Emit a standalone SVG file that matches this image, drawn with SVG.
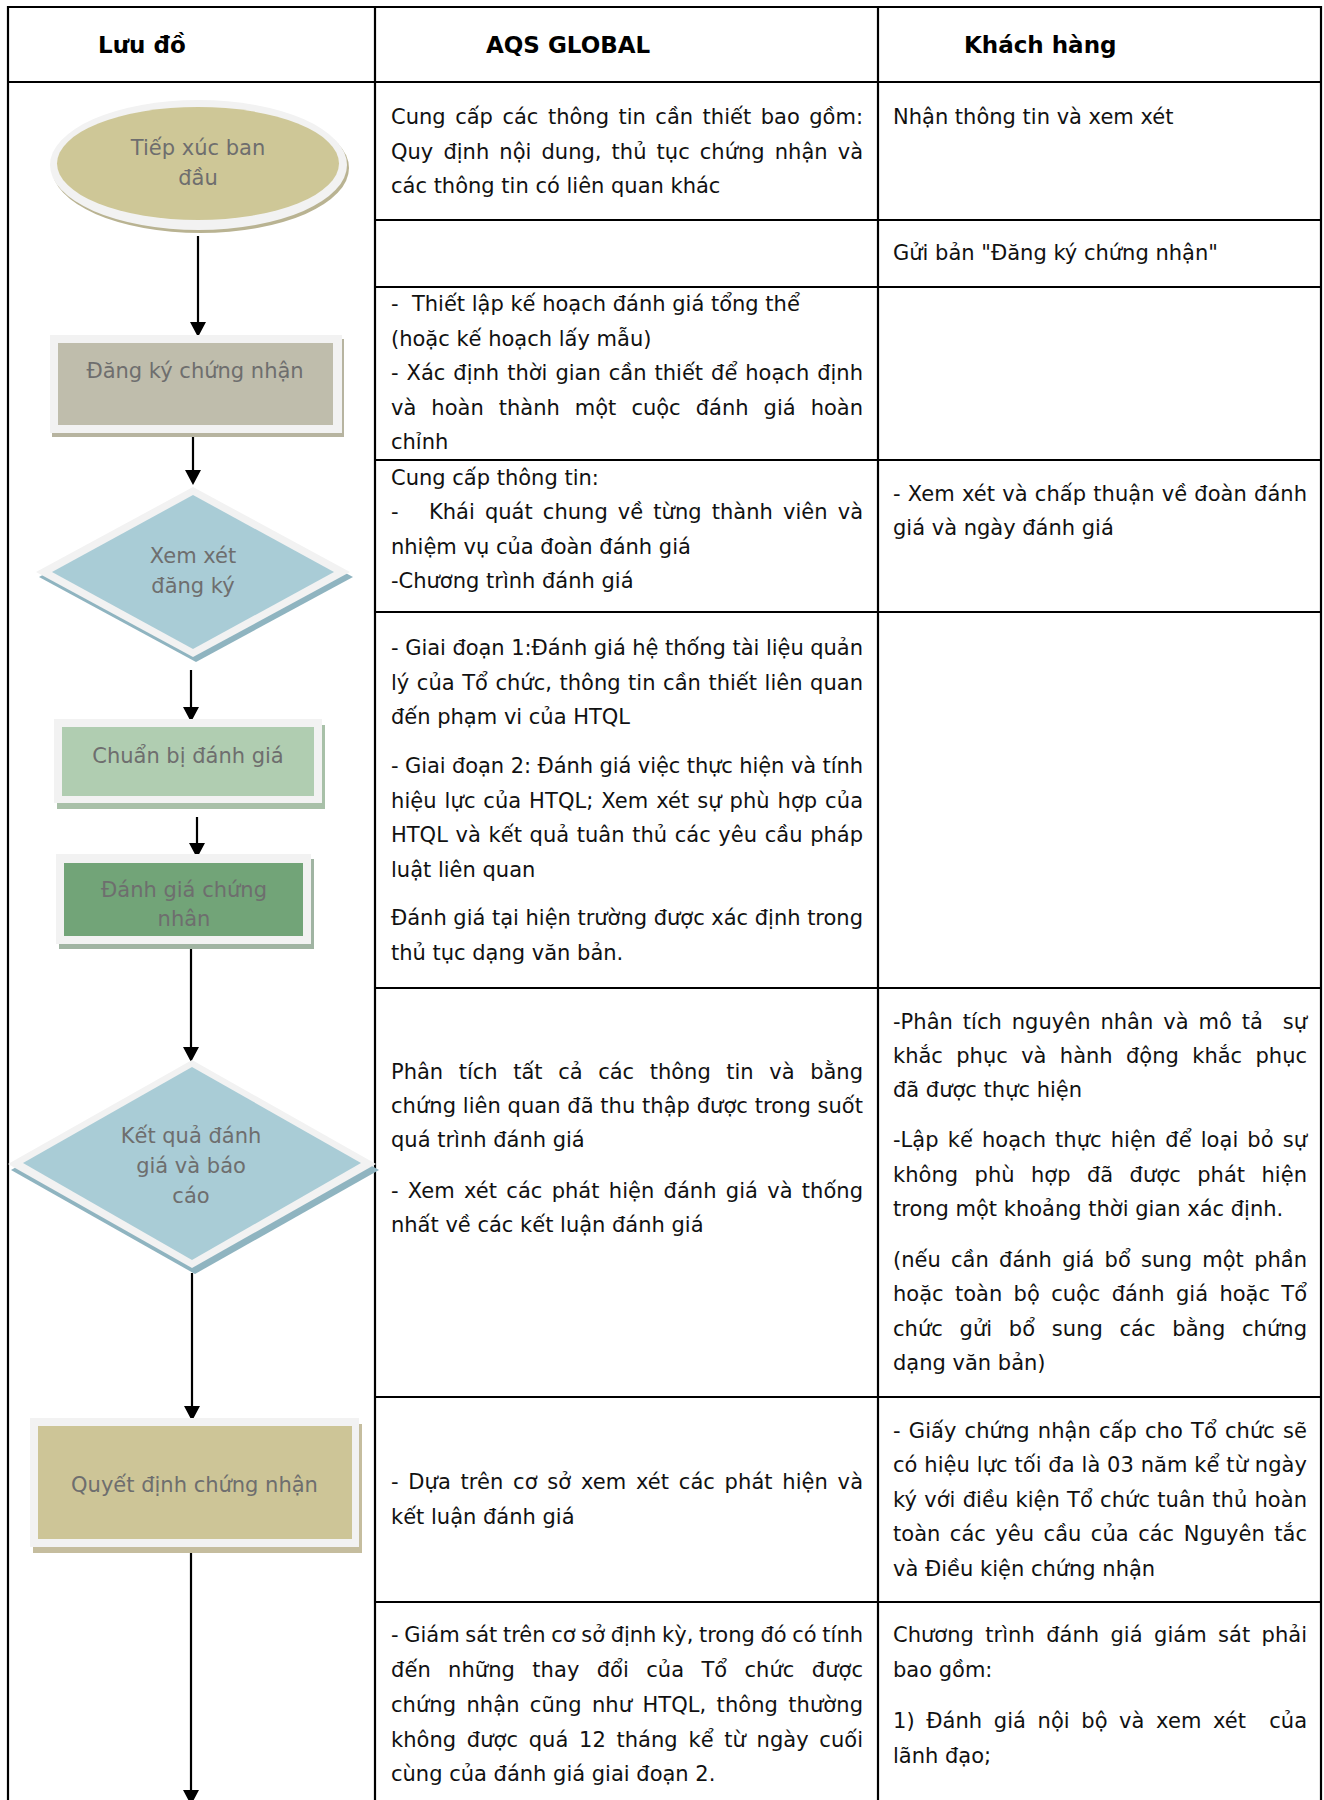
<svg xmlns="http://www.w3.org/2000/svg" width="1324" height="1800" viewBox="0 0 1324 1800">
<style>
.tl{stroke:#000;stroke-width:2.2;fill:none}
.b{font-family:"DejaVu Sans","Liberation Sans",sans-serif;font-size:21px;fill:#111;white-space:pre}
.h{font-family:"DejaVu Sans","Liberation Sans",sans-serif;font-size:23px;font-weight:bold;fill:#000}
.n{font-family:"DejaVu Sans","Liberation Sans",sans-serif;font-size:21px;fill:#6e6e6e;text-anchor:middle}
.rim{fill:#f2f2f2}
.con{stroke:#000;stroke-width:2.2;fill:none;marker-end:url(#arr)}
</style>
<defs>
<marker id="arr" markerUnits="userSpaceOnUse" markerWidth="15" markerHeight="16" viewBox="0 0 15 16" refX="0" refY="8" orient="auto">
<path d="M0,0 L15,8 L0,16 Z" fill="#000"/>
</marker>
</defs>
<rect width="1324" height="1800" fill="#fff"/>
<g id="table">
<path class="tl" d="M8,1802 V7 H1321 V1802 M375,7 V1802 M878,7 V1802 M8,82 H1321 M375,220 H1321 M375,287 H1321 M375,460 H1321 M375,612 H1321 M375,988 H1321 M375,1397 H1321 M375,1602 H1321"/>
<text class="h" x="98" y="53">Lưu đồ</text>
<text class="h" x="486" y="53">AQS GLOBAL</text>
<text class="h" x="964" y="53">Khách hàng</text>
</g>
<g id="col2">
<text class="b" x="391" y="124" textLength="472" lengthAdjust="spacing" word-spacing="2.8">Cung cấp các thông tin cần thiết bao gồm:</text>
<text class="b" x="391" y="159" textLength="472" lengthAdjust="spacing" word-spacing="3.4">Quy định nội dung, thủ tục chứng nhận và</text>
<text class="b" x="391" y="193">các thông tin có liên quan khác</text>
<text class="b" x="391" y="311">-  Thiết lập kế hoạch đánh giá tổng thể</text>
<text class="b" x="391" y="346">(hoặc kế hoạch lấy mẫu)</text>
<text class="b" x="391" y="380" textLength="472" lengthAdjust="spacing" word-spacing="1.3">- Xác định thời gian cần thiết để hoạch định</text>
<text class="b" x="391" y="415" textLength="472" lengthAdjust="spacing" word-spacing="8.4">và hoàn thành một cuộc đánh giá hoàn</text>
<text class="b" x="391" y="449">chỉnh</text>
<text class="b" x="391" y="485">Cung cấp thông tin:</text>
<text class="b" x="391" y="519" textLength="472" lengthAdjust="spacing" word-spacing="3.4">-   Khái quát chung về từng thành viên và</text>
<text class="b" x="391" y="554">nhiệm vụ của đoàn đánh giá</text>
<text class="b" x="391" y="588">-Chương trình đánh giá</text>
<text class="b" x="391" y="655" textLength="472" lengthAdjust="spacing">- Giai đoạn 1:Đánh giá hệ thống tài liệu quản</text>
<text class="b" x="391" y="690" textLength="472" lengthAdjust="spacing" word-spacing="0.8">lý của Tổ chức, thông tin cần thiết liên quan</text>
<text class="b" x="391" y="724">đến phạm vi của HTQL</text>
<text class="b" x="391" y="773" textLength="472" lengthAdjust="spacing">- Giai đoạn 2: Đánh giá việc thực hiện và tính</text>
<text class="b" x="391" y="808" textLength="472" lengthAdjust="spacing" word-spacing="1">hiệu lực của HTQL; Xem xét sự phù hợp của</text>
<text class="b" x="391" y="842" textLength="472" lengthAdjust="spacing" word-spacing="1">HTQL và kết quả tuân thủ các yêu cầu pháp</text>
<text class="b" x="391" y="877">luật liên quan</text>
<text class="b" x="391" y="925" textLength="472" lengthAdjust="spacing">Đánh giá tại hiện trường được xác định trong</text>
<text class="b" x="391" y="960">thủ tục dạng văn bản.</text>
<text class="b" x="391" y="1079" textLength="472" lengthAdjust="spacing" word-spacing="8.9">Phân tích tất cả các thông tin và bằng</text>
<text class="b" x="391" y="1113" textLength="472" lengthAdjust="spacing">chứng liên quan đã thu thập được trong suốt</text>
<text class="b" x="391" y="1147">quá trình đánh giá</text>
<text class="b" x="391" y="1198" textLength="472" lengthAdjust="spacing" word-spacing="2.5">- Xem xét các phát hiện đánh giá và thống</text>
<text class="b" x="391" y="1232">nhất về các kết luận đánh giá</text>
<text class="b" x="391" y="1489" textLength="472" lengthAdjust="spacing" word-spacing="2.9">- Dựa trên cơ sở xem xét các phát hiện và</text>
<text class="b" x="391" y="1524">kết luận đánh giá</text>
<text class="b" x="391" y="1642" textLength="472" lengthAdjust="spacing" word-spacing="-1">- Giám sát trên cơ sở định kỳ, trong đó có tính</text>
<text class="b" x="391" y="1677" textLength="472" lengthAdjust="spacing" word-spacing="10.5">đến những thay đổi của Tổ chức được</text>
<text class="b" x="391" y="1712" textLength="472" lengthAdjust="spacing" word-spacing="3.6">chứng nhận cũng như HTQL, thông thường</text>
<text class="b" x="391" y="1747" textLength="472" lengthAdjust="spacing" word-spacing="4">không được quá 12 tháng kể từ ngày cuối</text>
<text class="b" x="391" y="1781">cùng của đánh giá giai đoạn 2.</text>
</g>
<g id="col3">
<text class="b" x="893" y="124">Nhận thông tin và xem xét</text>
<text class="b" x="893" y="260">Gửi bản "Đăng ký chứng nhận"</text>
<text class="b" x="893" y="501" textLength="414" lengthAdjust="spacing" word-spacing="0.5">- Xem xét và chấp thuận về đoàn đánh</text>
<text class="b" x="893" y="535">giá và ngày đánh giá</text>
<text class="b" x="893" y="1029" textLength="414" lengthAdjust="spacing" word-spacing="3.2">-Phân tích nguyên nhân và mô tả  sự</text>
<text class="b" x="893" y="1063" textLength="414" lengthAdjust="spacing" word-spacing="6.7">khắc phục và hành động khắc phục</text>
<text class="b" x="893" y="1097">đã được thực hiện</text>
<text class="b" x="893" y="1147" textLength="414" lengthAdjust="spacing" word-spacing="2.4">-Lập kế hoạch thực hiện để loại bỏ sự</text>
<text class="b" x="893" y="1182" textLength="414" lengthAdjust="spacing" word-spacing="9.6">không phù hợp đã được phát hiện</text>
<text class="b" x="893" y="1216">trong một khoảng thời gian xác định.</text>
<text class="b" x="893" y="1267" textLength="414" lengthAdjust="spacing" word-spacing="3.6">(nếu cần đánh giá bổ sung một phần</text>
<text class="b" x="893" y="1301" textLength="414" lengthAdjust="spacing" word-spacing="4.7">hoặc toàn bộ cuộc đánh giá hoặc Tổ</text>
<text class="b" x="893" y="1336" textLength="414" lengthAdjust="spacing" word-spacing="9.9">chức gửi bổ sung các bằng chứng</text>
<text class="b" x="893" y="1370">dạng văn bản)</text>
<text class="b" x="893" y="1438" textLength="414" lengthAdjust="spacing" word-spacing="1.5">- Giấy chứng nhận cấp cho Tổ chức sẽ</text>
<text class="b" x="893" y="1472" textLength="414" lengthAdjust="spacing">có hiệu lực tối đa là 03 năm kể từ ngày</text>
<text class="b" x="893" y="1507" textLength="414" lengthAdjust="spacing" word-spacing="0.5">ký với điều kiện Tổ chức tuân thủ hoàn</text>
<text class="b" x="893" y="1541" textLength="414" lengthAdjust="spacing" word-spacing="2.8">toàn các yêu cầu của các Nguyên tắc</text>
<text class="b" x="893" y="1576">và Điều kiện chứng nhận</text>
<text class="b" x="893" y="1642" textLength="414" lengthAdjust="spacing" word-spacing="4.7">Chương trình đánh giá giám sát phải</text>
<text class="b" x="893" y="1677">bao gồm:</text>
<text class="b" x="893" y="1728" textLength="414" lengthAdjust="spacing" word-spacing="4.8">1) Đánh giá nội bộ và xem xét  của</text>
<text class="b" x="893" y="1763">lãnh đạo;</text>
</g>
<g id="connectors">
<path class="con" d="M198,236 V322"/>
<path class="con" d="M193,437 V470"/>
<path class="con" d="M191,670 V707"/>
<path class="con" d="M197,817 V843"/>
<path class="con" d="M191,948 V1047"/>
<path class="con" d="M192,1273 V1406"/>
<path class="con" d="M191,1552 V1790"/>
</g>
<g id="n1">
<ellipse cx="200.5" cy="168" rx="148.5" ry="65" fill="#b9b392"/>
<ellipse class="rim" cx="198.5" cy="165" rx="148.5" ry="65"/>
<ellipse cx="198" cy="163.5" rx="141" ry="56.5" fill="#cec797"/>
<text class="n" x="198" y="155">Tiếp xúc ban</text>
<text class="n" x="198" y="185">đầu</text>
</g>
<g id="n2">
<rect x="52" y="339" width="292" height="98" fill="#b7b4a0"/>
<rect class="rim" x="50" y="335" width="292" height="98"/>
<rect x="58" y="343" width="275" height="82" fill="#bfbdac"/>
<text class="n" x="195" y="378">Đăng ký chứng nhận</text>
</g>
<g id="n3">
<polygon points="196,492 39,577 196,662 353,577" fill="#8fb4c0"/>
<polygon class="rim" points="193,487 36,572 193,657 350,572"/>
<polygon points="193,495 52,572 193,649 334,572" fill="#a9ccd6"/>
<text class="n" x="193" y="563">Xem xét</text>
<text class="n" x="193" y="593">đăng ký</text>
</g>
<g id="n4">
<rect x="57" y="725" width="268" height="84" fill="#a8c0a8"/>
<rect class="rim" x="54" y="719" width="268" height="84"/>
<rect x="62" y="727" width="252" height="69" fill="#b0cdb1"/>
<text class="n" x="188" y="763">Chuẩn bị đánh giá</text>
</g>
<g id="n5">
<rect x="59" y="859" width="255" height="90" fill="#a0b4a2"/>
<rect class="rim" x="56" y="854" width="255" height="90"/>
<rect x="64" y="863" width="239" height="73" fill="#72a478"/>
<text class="n" x="184" y="897">Đánh giá chứng</text>
<text class="n" x="184" y="926">nhân</text>
</g>
<g id="n6">
<polygon points="195,1066 11,1170 195,1274 379,1170" fill="#8fb4c0"/>
<polygon class="rim" points="192,1060 8,1164 192,1268 376,1164"/>
<polygon points="192,1067 23,1163 192,1260 361,1163" fill="#a9ccd6"/>
<text class="n" x="191" y="1143">Kết quả đánh</text>
<text class="n" x="191" y="1173">giá và báo</text>
<text class="n" x="191" y="1203">cáo</text>
</g>
<g id="n7">
<rect x="33" y="1424" width="329" height="129" fill="#c5bd9e"/>
<rect class="rim" x="30" y="1418" width="329" height="129"/>
<rect x="38" y="1426" width="314" height="113" fill="#cdc597"/>
<text class="n" x="194.5" y="1492">Quyết định chứng nhận</text>
</g>
</svg>
